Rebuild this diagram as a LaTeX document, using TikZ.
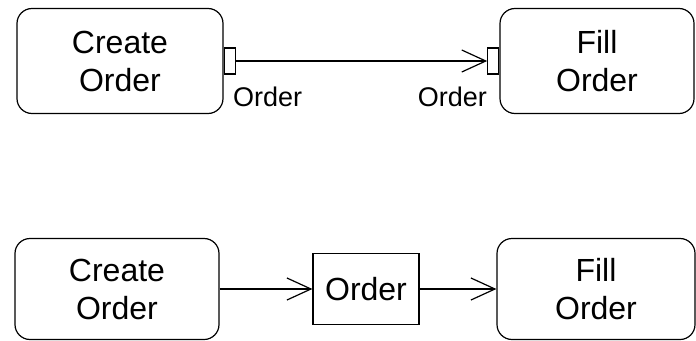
\documentclass[tikz,border=0pt]{standalone}
\usepackage{fontspec}
\setmainfont{Liberation Sans}
\usetikzlibrary{arrows.meta,positioning}

\tikzset{
	action/.style={draw,line width=1.2pt,rounded corners=15pt,inner sep=0pt,
		minimum height=105pt,align=center,font=\fontsize{32}{38}\selectfont},
	pinbox/.style={draw,line width=1.2pt,fill=white,inner sep=0pt,
		minimum width=11pt,minimum height=26pt},
	objbox/.style={draw,line width=1.2pt,inner sep=0pt,minimum width=106pt,
		minimum height=71pt,font=\fontsize{32}{38}\selectfont},
	pinlabel/.style={inner sep=0pt,font=\fontsize{27}{32}\selectfont},
	flow/.style={line width=1.2pt,-{Straight Barb[length=24pt,width=22pt,line width=1.2pt]}}
}

\begin{document}
\begin{tikzpicture}[x=1pt,y=-1pt]
		\useasboundingbox (0,0) rectangle (696,340);
		% pins
		\node[action,minimum width=206pt] (create1) at (120,61) {Create\\Order};
		\node[action,minimum width=194pt] (fill1) at (597,61) {Fill\\Order};
		\node[pinbox,right=0pt of create1] (pinout) {};
		\node[pinbox,left=0pt of fill1] (pinin) {};
		\node[pinlabel,anchor=north west] (outlabel) at (233,87) {Order};
		\node[pinlabel,anchor=north east] (inlabel) at (487,87) {Order};
		\draw[flow] (pinout) -- (pinin);
		% object node
		\node[action,minimum width=204pt,minimum height=101pt] (create2) at (117,289) {Create\\Order};
		\node[objbox] (order) at (366,289) {Order};
		\node[action,minimum width=198pt,minimum height=101pt] (fill2) at (596,289) {Fill\\Order};
		\draw[flow] (create2) -- (order);
		\draw[flow] (order) -- (fill2);
	\end{tikzpicture}
\end{document}
